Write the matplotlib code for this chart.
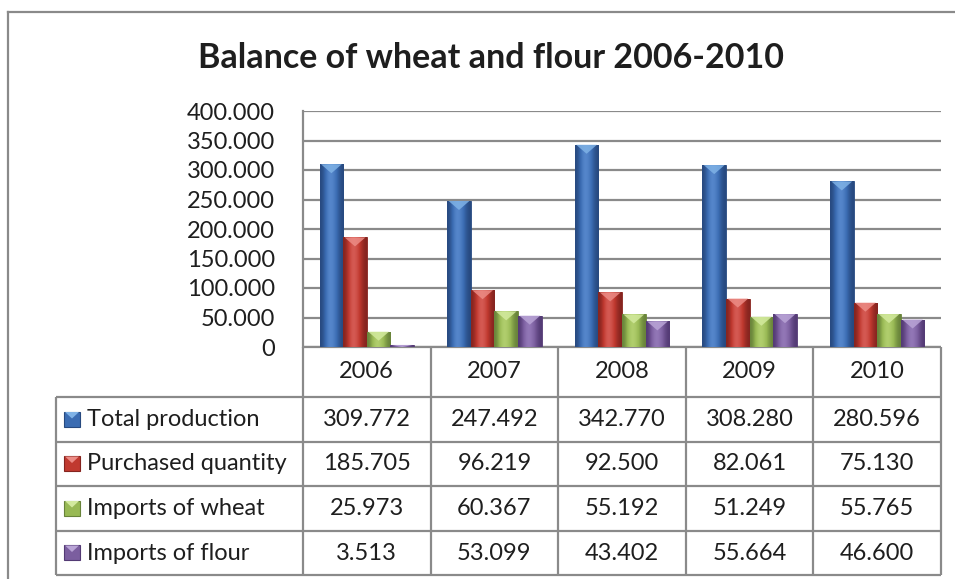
import numpy as np
import matplotlib
matplotlib.use("Agg")
import matplotlib.pyplot as plt
from matplotlib.colors import LinearSegmentedColormap
from matplotlib.patches import Polygon, Rectangle

plt.rcParams['font.family'] = ['Lato', 'DejaVu Sans']

# data (values in tonnes, shown with '.' as thousands separator)
years = ["2006", "2007", "2008", "2009", "2010"]
series_names = ["Total production", "Purchased quantity", "Imports of wheat", "Imports of flour"]
total_production = [309772, 247492, 342770, 308280, 280596]
purchased_quantity = [185705, 96219, 92500, 82061, 75130]
imports_of_wheat = [25973, 60367, 55192, 51249, 55765]
imports_of_flour = [3513, 53099, 43402, 55664, 46600]
y_ticks = [0, 50000, 100000, 150000, 200000, 250000, 300000, 350000, 400000]

series_values = [total_production, purchased_quantity, imports_of_wheat, imports_of_flour]
# (edge/dark, base, light, top facet)
palette = [
    ("#27497f", "#3b6cb2", "#5a8bd0", "#7fb2e6"),
    ("#85241f", "#c0392f", "#d9605a", "#ec8c86"),
    ("#68833a", "#98b954", "#b5d272", "#d3ea9e"),
    ("#533a74", "#7b5e9f", "#977cbb", "#b9a4d6"),
]
GRID = "#8a8a8a"
TXT = "#1e1e1e"
FS = 17

W, H = 955, 579
fig = plt.figure(figsize=(W / 100, H / 100), dpi=100)

# layout in pixels
px_left, px_right, px_top, px_bottom = 303, 941, 111, 347
leg_left = 56
row_edges = [347, 397, 442, 486, 531, 575]

# overlay axes in pixel coordinates for frame, title and data table
ov = fig.add_axes([0, 0, 1, 1])
ov.set_xlim(0, W)
ov.set_ylim(H, 0)
ov.axis("off")

ax = fig.add_axes([px_left / W, 1 - px_bottom / H, (px_right - px_left) / W, (px_bottom - px_top) / H])
ax.set_xlim(-0.5, len(years) - 0.5)
ax.set_ylim(0, y_ticks[-1])
ax.set_yticks(y_ticks)
ax.set_yticklabels([f"{v:,}".replace(",", ".") for v in y_ticks], fontsize=FS, color=TXT)
ax.tick_params(axis="y", length=0, pad=20)
ax.set_xticks([])
ax.grid(axis="y", color=GRID, linewidth=1.6)
ax.set_axisbelow(True)
for side in ["top", "right", "bottom"]:
    ax.spines[side].set_visible(False)
ax.spines["left"].set_color(GRID)
ax.spines["left"].set_linewidth(1.6)
ax.patch.set_alpha(0)

x = np.arange(len(years))
bw = 0.185
tri_h = 9 * y_ticks[-1] / (px_bottom - px_top)
grad = np.array([[0.0, 0.55, 1.0, 0.8, 0.35, 0.0]])
for i, (vals, cols) in enumerate(zip(series_values, palette)):
    offs = x + (i - 1.5) * bw
    bars = ax.bar(offs, vals, width=bw, color=cols[1], edgecolor=cols[0], linewidth=0.6, zorder=3)
    cmap = LinearSegmentedColormap.from_list(f"g{i}", [cols[0], cols[1], cols[2]])
    for b in bars:
        x0, w, h = b.get_x(), b.get_width(), b.get_height()
        im = ax.imshow(grad, extent=[x0, x0 + w, 0, h], aspect="auto", cmap=cmap,
                       interpolation="bicubic", zorder=3.5)
        im.set_clip_path(b)
        th = min(tri_h, h)
        ax.add_patch(Polygon([[x0 + 0.06 * w, h], [x0 + 0.94 * w, h], [x0 + w / 2, h - th]],
                             closed=True, facecolor=cols[3], edgecolor="none", alpha=0.85, zorder=4))
ax.set_xlim(-0.5, len(years) - 0.5)
ax.set_ylim(0, y_ticks[-1])

# outer chart frame (top and left visible)
ov.plot([8, W], [12, 12], color=GRID, lw=1.6)
ov.plot([8, 8], [12, H], color=GRID, lw=1.6)

ov.text(491, 58, "Balance of wheat and flour 2006-2010", ha="center", va="center",
        fontsize=24.5, fontweight="bold", color=TXT)

# data table
cell_w = (px_right - px_left) / len(years)
col_edges = [px_left + k * cell_w for k in range(len(years) + 1)]
lkw = dict(color=GRID, lw=1.6, solid_capstyle="butt")
for k, ye in enumerate(row_edges):
    ov.plot([px_left if k == 0 else leg_left, px_right], [ye, ye], **lkw)
for k, xe in enumerate(col_edges):
    ov.plot([xe, xe], [row_edges[0], row_edges[-1]], **lkw)
ov.plot([leg_left, leg_left], [row_edges[1], row_edges[-1]], **lkw)

for j, yr in enumerate(years):
    xc = (col_edges[j] + col_edges[j + 1]) / 2
    ov.text(xc, (row_edges[0] + row_edges[1]) / 2, yr, ha="center", va="center", fontsize=FS, color=TXT)
for i, (name, vals, cols) in enumerate(zip(series_names, series_values, palette)):
    yc = (row_edges[i + 1] + row_edges[i + 2]) / 2
    ov.add_patch(Rectangle((64, yc - 8), 16, 15, facecolor=cols[1], edgecolor=cols[0], lw=0.8))
    ov.add_patch(Polygon([[65, yc - 7.5], [79, yc - 7.5], [72, yc - 1]], facecolor=cols[3], edgecolor="none"))
    ov.text(87, yc, name, ha="left", va="center", fontsize=FS, color=TXT)
    for j, v in enumerate(vals):
        xc = (col_edges[j] + col_edges[j + 1]) / 2
        ov.text(xc, yc, f"{v:,}".replace(",", "."), ha="center", va="center", fontsize=FS, color=TXT)

fig.savefig("out.png", dpi=100)
